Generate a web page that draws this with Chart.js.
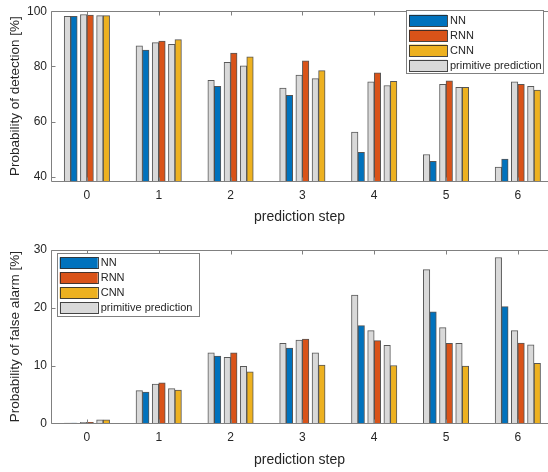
<!DOCTYPE html>
<html>
<head>
<meta charset="utf-8">
<script src="https://cdn.jsdelivr.net/npm/chart.js@4"></script>
<style>
  html, body { margin: 0; padding: 0; background: #fff; overflow: hidden; }
  canvas { display: block; }
</style>
</head>
<body>
<canvas id="pd" width="548" height="236"></canvas>
<canvas id="pfa" width="548" height="236"></canvas>
<script>
// Prediction steps (x categories)
const steps = [0, 1, 2, 3, 4, 5, 6];

// Probability of detection [%]
const pdNN      = [98.1, 85.9, 72.8, 69.5, 48.9, 45.6, 46.4];
const pdRNN     = [98.6, 89.2, 84.8, 82.0, 77.7, 74.8, 73.5];
const pdCNN     = [98.4, 89.7, 83.5, 78.5, 74.6, 72.4, 71.4];
const pdPrimNN  = [98.1, 87.5, 75.0, 72.2, 56.2, 48.1, 43.5];
const pdPrimRNN = [98.8, 88.6, 81.5, 76.9, 74.4, 73.5, 74.4];
const pdPrimCNN = [98.4, 88.0, 80.2, 75.6, 73.1, 72.4, 72.8];
const pdTicks   = [40, 60, 80, 100];

// Probability of false alarm [%]
const faNN      = [0.05, 5.4, 11.65, 13.0, 16.9, 19.3, 20.2];
const faRNN     = [0.15, 7.0, 12.2, 14.6, 14.3, 13.85, 13.9];
const faCNN     = [0.6, 5.75, 8.9, 10.1, 10.0, 9.9, 10.4];
const faPrimNN  = [0.05, 5.67, 12.2, 13.85, 22.2, 26.6, 28.7];
const faPrimRNN = [0.15, 6.8, 11.4, 14.4, 16.05, 16.55, 16.05];
const faPrimCNN = [0.6, 6.0, 9.85, 12.2, 13.5, 13.85, 13.6];
const faTicks   = [0, 10, 20, 30];

const seriesNames = ['NN', 'RNN', 'CNN', 'primitive prediction'];

const FONT = "'Liberation Sans', Arial, Helvetica, sans-serif";
const TEXT = '#262626';
const AXIS = '#808080';
const COLORS = { NN: '#0072BD', RNN: '#D95319', CNN: '#EDB120', prim: '#D9D9D9' };

// Each model bar sits right next to its primitive-prediction bar;
// the three pairs are spread around the step position.
const PAIR_OFFSET = 0.2256;
const HALF_BAR = 0.0453;
const BAR_PX = 6.5;

function pairData(values, pairIdx, isPrim) {
  const off = (pairIdx - 1) * PAIR_OFFSET + (isPrim ? -HALF_BAR : HALF_BAR);
  return steps.map((s, i) => ({ x: s + off, y: values[i] }));
}

function barSet(label, values, pairIdx, isPrim, color) {
  return {
    label,
    data: pairData(values, pairIdx, isPrim),
    backgroundColor: color,
    borderColor: isPrim ? 'rgba(60,60,60,0.85)' : 'rgba(30,30,30,0.75)',
    borderWidth: 1,
    borderSkipped: 'bottom',
    barThickness: BAR_PX,
    grouped: false
  };
}

// Axes box (left, top, bottom) with inward tick marks, drawn over the bars
const axesBox = {
  id: 'axesBox',
  afterDatasetsDraw(chart) {
    const { ctx, chartArea: a, scales } = chart;
    ctx.save();
    ctx.strokeStyle = AXIS;
    ctx.lineWidth = 1;
    const L = Math.round(a.left) + 0.5, T = Math.round(a.top) + 0.5, B = Math.round(a.bottom) + 0.5;
    ctx.beginPath();
    ctx.moveTo(a.right + 1, T); ctx.lineTo(L, T); ctx.lineTo(L, B); ctx.lineTo(a.right + 1, B);
    scales.x.ticks.forEach(t => {
      const px = Math.round(scales.x.getPixelForValue(t.value)) + 0.5;
      ctx.moveTo(px, T); ctx.lineTo(px, T + 4);
      ctx.moveTo(px, B); ctx.lineTo(px, B - 4);
    });
    scales.y.ticks.forEach(t => {
      const py = Math.round(scales.y.getPixelForValue(t.value)) + 0.5;
      ctx.moveTo(L, py); ctx.lineTo(L + 4, py);
    });
    ctx.stroke();
    ctx.restore();
  }
};

// Boxed legend placed inside the axes
const boxLegend = {
  id: 'boxLegend',
  afterDraw(chart, args, opts) {
    const { ctx } = chart;
    const items = seriesNames.map(name => {
      const ds = chart.data.datasets.find(d => d.label === name);
      return { name, fill: ds.backgroundColor };
    });
    ctx.save();
    ctx.fillStyle = '#fff';
    ctx.fillRect(opts.x, opts.y, opts.w, opts.h);
    ctx.strokeStyle = AXIS;
    ctx.lineWidth = 1;
    ctx.strokeRect(Math.round(opts.x) + 0.5, Math.round(opts.y) + 0.5, Math.round(opts.w), Math.round(opts.h));
    ctx.font = '11px ' + FONT;
    ctx.textBaseline = 'middle';
    ctx.textAlign = 'left';
    items.forEach((it, i) => {
      const cy = opts.y + opts.first + i * opts.step;
      ctx.fillStyle = it.fill;
      ctx.fillRect(opts.x + 3, cy - 5.5, 38, 11.5);
      ctx.strokeStyle = 'rgba(40,40,40,0.85)';
      ctx.strokeRect(Math.round(opts.x + 3) + 0.5, Math.round(cy - 5.5) + 0.5, 38, 11);
      ctx.fillStyle = TEXT;
      ctx.fillText(it.name, opts.x + 44, cy + 0.5);
    });
    ctx.restore();
  }
};

function makeChart(id, s) {
  const datasets = [
    barSet('primitive prediction', s.primNN, 0, true, COLORS.prim),
    barSet('NN', s.nn, 0, false, COLORS.NN),
    barSet('primitive prediction', s.primRNN, 1, true, COLORS.prim),
    barSet('RNN', s.rnn, 1, false, COLORS.RNN),
    barSet('primitive prediction', s.primCNN, 2, true, COLORS.prim),
    barSet('CNN', s.cnn, 2, false, COLORS.CNN)
  ];
  return new Chart(document.getElementById(id), {
    type: 'bar',
    data: { datasets },
    plugins: [axesBox, boxLegend],
    options: {
      responsive: false,
      animation: false,
      devicePixelRatio: 1,
      layout: { padding: { top: s.padTop, right: 0, bottom: 0, left: 0 } },
      plugins: {
        legend: { display: false },
        tooltip: { enabled: false },
        boxLegend: s.legend
      },
      scales: {
        x: {
          type: 'linear',
          offset: false,
          min: -0.5,
          max: 6.42,
          grid: { display: false, drawTicks: false, offset: false },
          border: { display: false },
          afterBuildTicks: sc => { sc.ticks = steps.map(v => ({ value: v })); },
          afterFit: sc => { sc.height = s.xHeight; },
          ticks: {
            padding: 7, color: TEXT, autoSkip: false, maxRotation: 0,
            font: { family: FONT, size: 12 },
            callback: v => String(v)
          },
          title: {
            display: true, text: 'prediction step', color: TEXT,
            font: { family: FONT, size: 14 },
            padding: { top: 0, bottom: s.xTitlePad }
          }
        },
        y: {
          min: s.yMin,
          max: s.yMax,
          grid: { display: false, drawTicks: false },
          border: { display: false },
          afterBuildTicks: sc => { sc.ticks = s.yTicks.map(v => ({ value: v })); },
          afterFit: sc => { sc.width = 51; },
          ticks: {
            padding: 4, color: TEXT,
            font: { family: FONT, size: 12 }
          },
          title: {
            display: true, text: s.yTitle, color: TEXT,
            font: { family: FONT, size: 13.5 },
            padding: { top: 7, bottom: 0 }
          }
        }
      }
    }
  });
}

makeChart('pd', {
  nn: pdNN, rnn: pdRNN, cnn: pdCNN,
  primNN: pdPrimNN, primRNN: pdPrimRNN, primCNN: pdPrimCNN,
  yMin: 38.5, yMax: 100, yTicks: pdTicks,
  yTitle: 'Probability of detection [%]',
  padTop: 7.3, xHeight: 55, xTitlePad: 10,
  legend: { x: 406, y: 10, w: 137, h: 63, first: 10.3, step: 14.9 }
});

makeChart('pfa', {
  nn: faNN, rnn: faRNN, cnn: faCNN,
  primNN: faPrimNN, primRNN: faPrimRNN, primCNN: faPrimCNN,
  yMin: 0, yMax: 30, yTicks: faTicks,
  yTitle: 'Probability of false alarm [%]',
  padTop: 14, xHeight: 48.7, xTitlePad: 3.5,
  legend: { x: 56.7, y: 17.3, w: 141.6, h: 62.7, first: 9.5, step: 14.9 }
});
</script>
</body>
</html>
